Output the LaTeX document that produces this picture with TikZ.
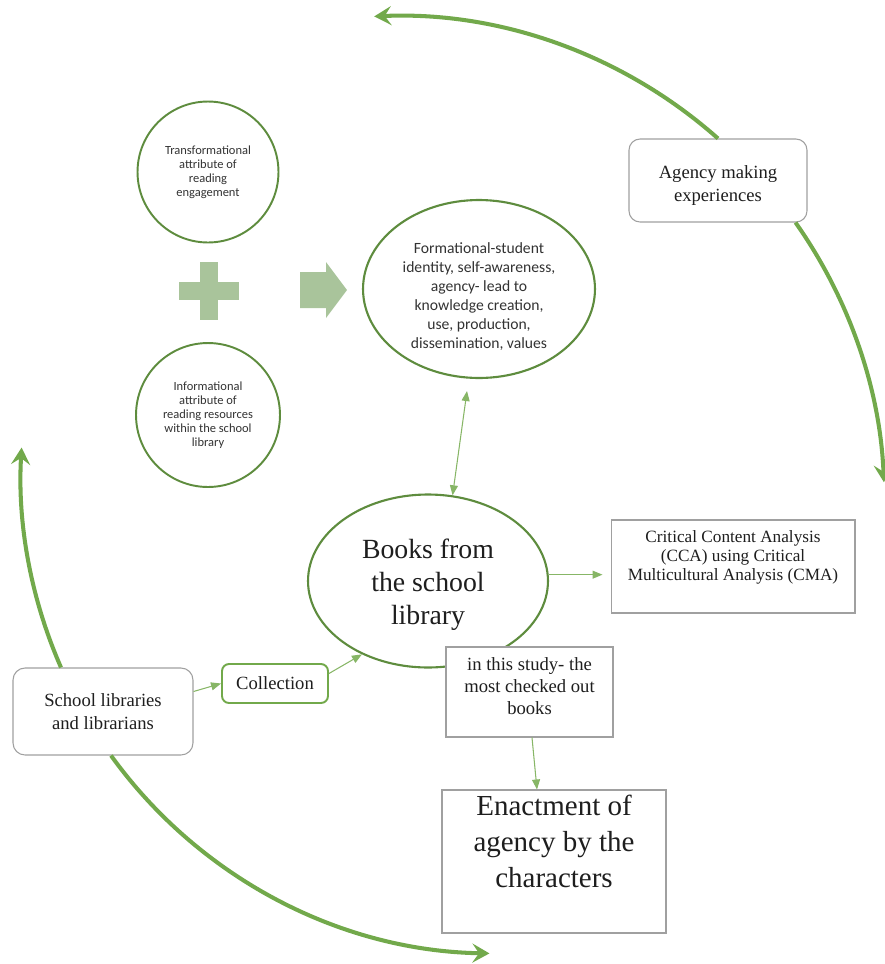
\documentclass[tikz,border=0pt]{standalone}
\usepackage{fontspec}
\setmainfont{Liberation Serif}
\newfontfamily\calibrifont{Carlito}
\usepackage{tikz}
\usetikzlibrary{shapes.geometric,arrows.meta,positioning,calc}

\definecolor{arcgreen}{HTML}{72A94B}
\definecolor{ringgreen}{HTML}{5E8C3E}
\definecolor{sage}{HTML}{A9C49B}
\definecolor{boxgray}{HTML}{A0A0A0}
\definecolor{inkgray}{HTML}{1E1E1E}

\begin{document}
\begin{tikzpicture}[x=0.02cm, y=-0.02cm,
    ring/.style={circle, draw=ringgreen, line width=1.1pt, fill=white, inner sep=0pt, align=center,
      text=black!80, font=\calibrifont\fontsize{7.1}{8}\selectfont},
    oval/.style={ellipse, draw=ringgreen, line width=1.2pt, fill=white, inner sep=0pt, align=center},
    plainbox/.style={draw=boxgray, line width=0.6pt, fill=white, inner sep=0pt, align=center, text=inkgray},
    roundbox/.style={plainbox, rounded corners=0.22cm},
    link/.style={draw=arcgreen!85, line width=0.6pt, -{Triangle[length=2mm,width=1.6mm]}},
    twolink/.style={link, {Triangle[length=2mm,width=1.6mm]}-{Triangle[length=2mm,width=1.6mm]}},
    cyclearrow/.style={draw=arcgreen, line width=2.3pt, -{Stealth[length=3.4mm,width=3.8mm,inset=1.3mm]}}]

  \useasboundingbox (0,0) rectangle (885,964);

  % the two attributes
  \node[ring, minimum size=2.82cm] (transform) at (208,172) {Transformational\\attribute of\\reading\\engagement};
  \node[ring, minimum size=2.88cm] (inform) at (208,415) {Informational\\attribute of\\reading resources\\within the school\\library};

  % plus sign and block arrow
  \fill[sage] (179,282) rectangle (239,300);
  \fill[sage] (200,262) rectangle (218,320);
  \fill[sage] (300,272) -- (326,272) -- (326,262) -- (347,290) -- (326,318) -- (326,308) -- (300,308) -- cycle;

  % formational outcome
  \node[oval, minimum width=4.64cm, minimum height=3.56cm, text=black!80] (formation) at (479,289)
    {\parbox[c][2.3cm][c]{3.2cm}{\centering\calibrifont\fontsize{8.9}{10.8}\selectfont
      Formational-student\\identity, self-awareness,\\agency- lead to\\knowledge creation,\\use, production,\\dissemination, values\par\vspace{-0.32cm}}};

  % books
  \node[oval, minimum width=4.8cm, minimum height=3.46cm, text=inkgray] (books) at (428,581)
    {\parbox[c][1.9cm][c]{2.9cm}{\centering\fontsize{15.8}{18.8}\selectfont Books from\\the school\\library\par\vspace{-0.16cm}}};

  \node[roundbox] (agency) at (718,180.5)
    {\parbox[c][1.66cm][c]{3.56cm}{\centering\fontsize{10.6}{13}\selectfont Agency making\\experiences\par\vspace{-0.2cm}}};
  \node[plainbox] (cca) at (733,566.5)
    {\parbox[c][1.86cm][c]{4.88cm}{\centering\fontsize{9.8}{10.8}\selectfont Critical Content Analysis\\(CCA) using Critical\\Multicultural Analysis (CMA)\par\vspace{0.38cm}}};
  \node[roundbox, rounded corners=0.24cm, minimum width=3.6cm, minimum height=1.74cm,
    font=\fontsize{10.6}{13}\selectfont] (school) at (103,711.5) {School libraries\\and librarians};
  \node[roundbox, draw=arcgreen, line width=1.1pt, rounded corners=0.14cm, minimum width=2.12cm, minimum height=0.78cm,
    font=\fontsize{10.6}{13}\selectfont] (collection) at (275,683.5) {Collection};
  \node[plainbox] (study) at (529.5,692)
    {\parbox[c][1.8cm][c]{3.34cm}{\centering\fontsize{10.6}{12.5}\selectfont in this study- the\\most checked out\\books\par\vspace{0.24cm}}};
  \node[plainbox] (enact) at (554,861.5)
    {\parbox[c][2.86cm][c]{4.48cm}{\centering\fontsize{16.5}{20.4}\selectfont Enactment of\\agency by the\\characters\par\vspace{0.8cm}}};

  % thin links
  \draw[twolink] ([xshift=-0.24cm,yshift=-0.24cm]formation.south) -- (books.74);
  \draw[link, shorten >=0.16cm] (books.3) -- (books.3 -| cca.west);
  \draw[link] ([yshift=0.4cm]school.east) -- (collection.west);
  \draw[link] ([yshift=0.2cm]collection.east) -- (books.228);
  \draw[link] ([xshift=0.05cm]study.south) -- ([xshift=-0.34cm]enact.north);

  % the big cycle
  \draw[cyclearrow] (agency.north) arc[start angle=48.4, end angle=92.5, radius=9.72cm] coordinate (topend);
  \draw[cyclearrow] ([xshift=-0.24cm]agency.south east) arc[start angle=35.2, end angle=2.4, radius=9.72cm] coordinate (rightend);
  \draw[cyclearrow] ([xshift=-0.84cm]school.north) arc[start angle=203.7, end angle=176.6, radius=9.54cm] coordinate (leftend);
  \draw[cyclearrow] ([xshift=0.16cm]school.south) arc[start angle=-144.2, end angle=-91, radius=9.54cm] coordinate (bottomend);
\end{tikzpicture}
\end{document}
